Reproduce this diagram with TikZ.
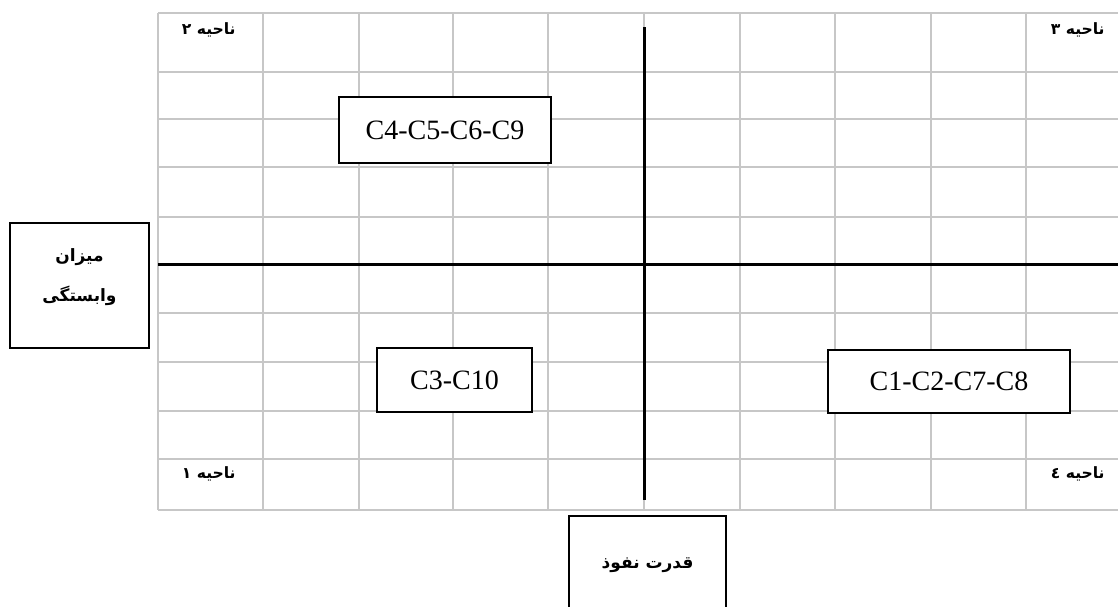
\documentclass[tikz,border=0pt]{standalone}
\usepackage{fontspec}
\setmainfont{Liberation Serif}
\newfontfamily\arabicfont[Script=Arabic]{DejaVu Sans}
\TeXXeTstate=1
\usetikzlibrary{shadows}

\tikzset{
  gridline/.style={draw=black!22, line width=0.75pt},
  axisline/.style={line width=1.5pt},
  cbox/.style={draw, fill=white, line width=0.75pt, inner sep=0pt,
    font=\fontsize{14}{16}\selectfont,
    drop shadow={shadow xshift=0.7pt, shadow yshift=-0.7pt, fill=black!40}},
  fabox/.style={draw, line width=0.75pt, inner sep=0pt},
  fatext/.style={font=\arabicfont\bfseries\fontsize{8.5}{20}\selectfont, inner sep=0pt, align=center},
  zonetext/.style={fatext, font=\arabicfont\bfseries\fontsize{7.8}{10}\selectfont, anchor=east},
}

\begin{document}
\begin{tikzpicture}[x=0.5pt, y=-0.5pt]
        \useasboundingbox (0,0) rectangle (1118,606);
        \clip (0,0) rectangle (1118,606);

        % griglia
        \foreach \x in {158,263,359,453,548,644,740,835,931,1026}
          \draw[gridline] (\x,13) -- (\x,510);
        \foreach \y in {13,72,119,167,217,264,313,362,411,459,510}
          \draw[gridline] (158,\y) -- (1118,\y);

        % assi
        \draw[axisline] (158,264) -- (1118,264); % asse orizzontale
        \draw[axisline] (644,27) -- (644,500); % asse verticale

        % nomi delle zone
        \node[zonetext] (zone2) at (236,30) {\beginR ناحیه ۲\endR};
        \node[zonetext] (zone3) at (1105,30) {\beginR ناحیه ۳\endR};
        \node[zonetext] (zone1) at (236,474) {\beginR ناحیه ۱\endR};
        \node[zonetext] (zone4) at (1105,474) {\beginR ناحیه ٤\endR};

        % gruppi
        \node[cbox, minimum width=106pt, minimum height=33pt] (groupA) at (445,130) {C4-C5-C6-C9};
        \node[cbox, minimum width=77.5pt, minimum height=32pt] (groupB) at (454.5,380) {C3-C10};
        \node[cbox, minimum width=121pt, minimum height=31.5pt] (groupC) at (949,381.5) {C1-C2-C7-C8};

        % etichette degli assi
        \node[fabox, minimum width=69.5pt, minimum height=62.5pt] (depbox) at (79.5,285.5) {};
        \node[fatext] (deptext) at (79.5,277) {\beginR میزان\endR\\\beginR وابستگی\endR};
        \node[fabox, minimum width=78.5pt, minimum height=62pt] (powbox) at (647.5,578) {};
        \node[fatext] (powtext) at (647.5,565) {\beginR قدرت نفوذ\endR};
    \end{tikzpicture}
\end{document}
